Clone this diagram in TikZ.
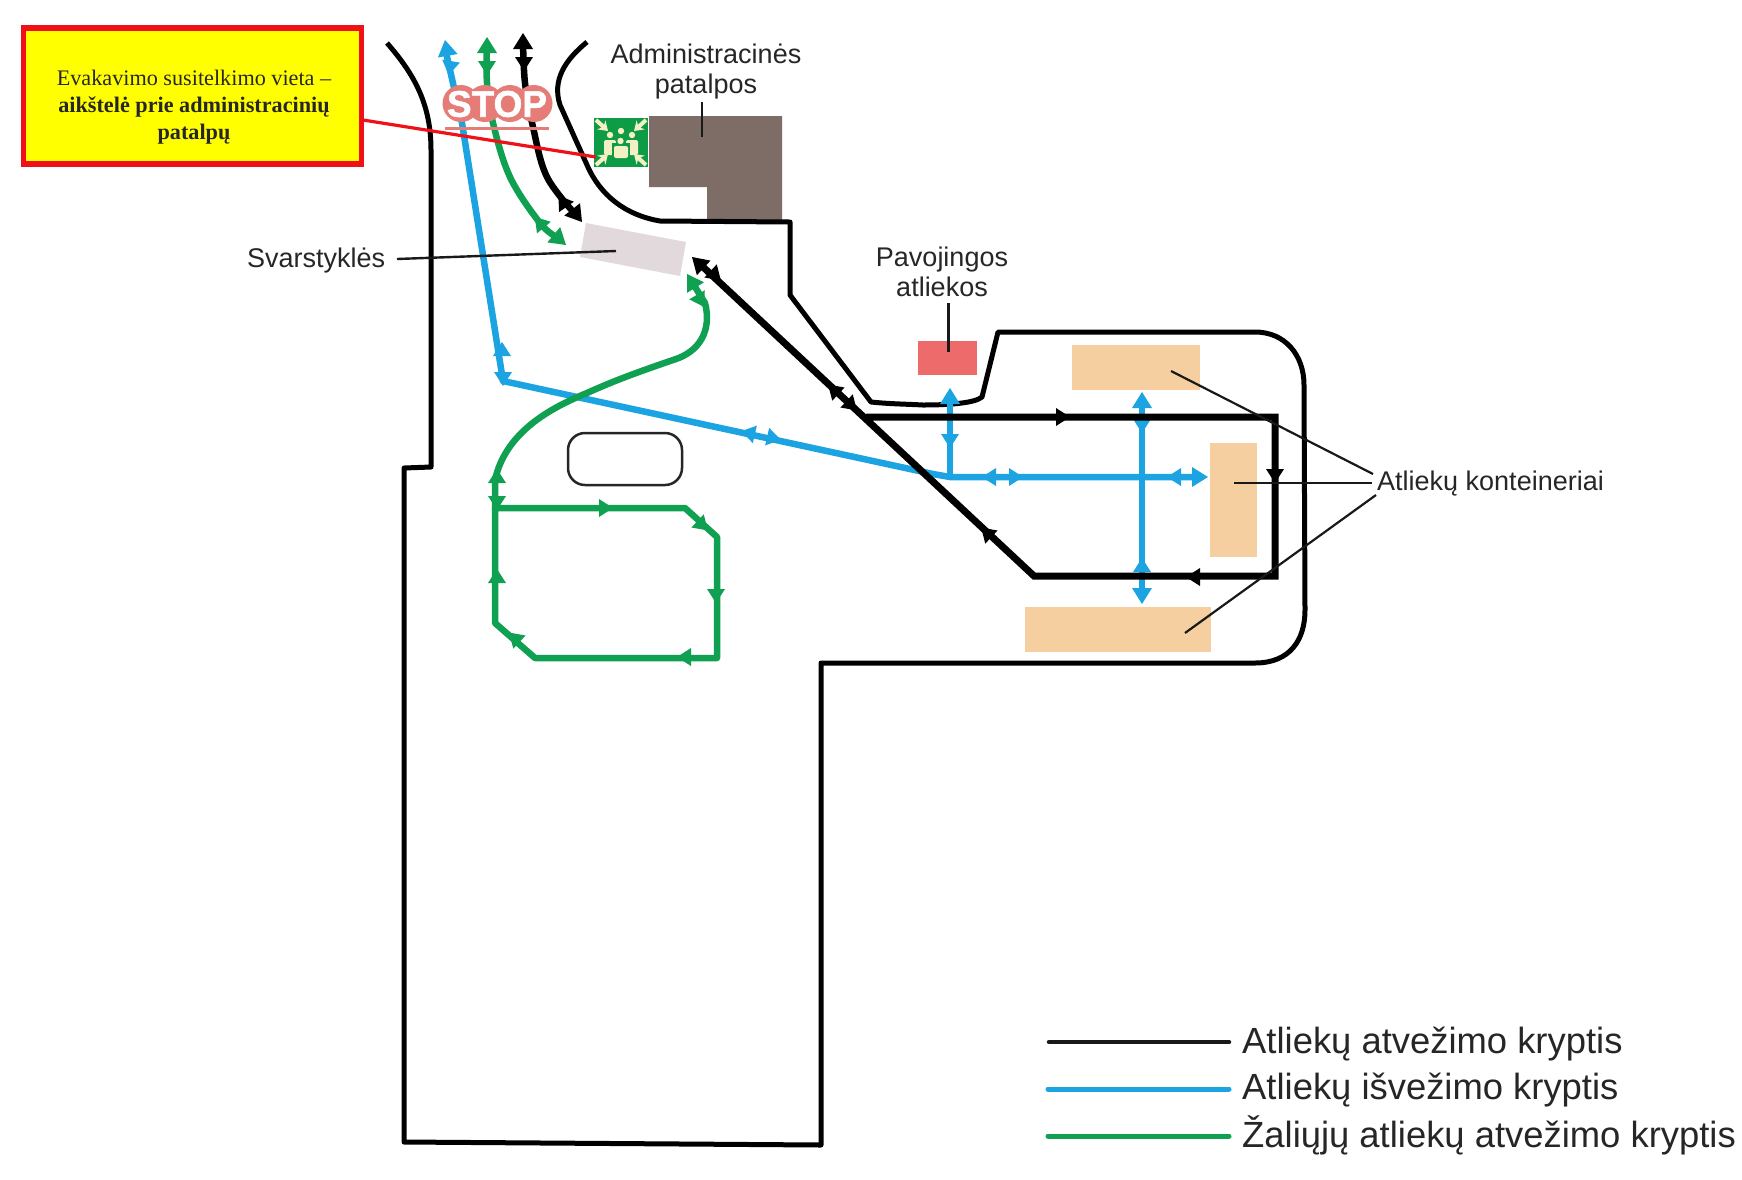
\documentclass[tikz,border=0pt]{standalone}
\usepackage{fontspec}
\setmainfont{Liberation Sans}
\newfontfamily\serifface{Liberation Serif}
\newfontfamily\stopface[BoldFeatures={FakeBold=1.5}]{Liberation Sans}
\usetikzlibrary{arrows.meta}
\definecolor{rblue}{HTML}{1BA3E2}
\definecolor{rgreen}{HTML}{10A052}
\definecolor{peach}{HTML}{F5CFA0}
\definecolor{brownb}{HTML}{7E6C66}
\definecolor{mauve}{HTML}{E2D9DC}
\definecolor{hazard}{HTML}{EE6B6B}
\definecolor{salmon}{HTML}{E57C78}
\definecolor{signg}{HTML}{0E9B46}
\definecolor{signy}{HTML}{F3F1C4}
\definecolor{labelc}{HTML}{262626}
\definecolor{notey}{rgb}{1,1,0}
\definecolor{noter}{HTML}{F01018}
\newcommand{\routehead}[4]{\fill[#1,shift={(#2,#3)},rotate=#4] (8,0)--(-6,9)--(-6,-9)--cycle;}
\newcommand{\routetip}[4]{\fill[#1,shift={(#2,#3)},rotate=#4] (0,0)--(-16,10)--(-16,-10)--cycle;}
\tikzset{
  wall/.style={black,line width=5pt,line join=round},
  blackroute/.style={black,line width=7pt,line join=miter},
  blueroute/.style={rblue,line width=6.5pt,line join=round},
  greenroute/.style={rgreen,line width=6.5pt,line join=round},
  leader/.style={black!90,line width=2.2pt},
  label/.style={font=\fontsize{27}{30}\selectfont,text=labelc,align=center,inner sep=0pt},
  legendtext/.style={font=\fontsize{36.4}{40}\selectfont,text=labelc,anchor=base west,inner sep=0pt},
  container/.style={fill=peach,inner sep=0pt},
  signarrow/.style={signy,line width=4pt,-{Stealth[length=9pt,width=12pt]}},
}
\begin{document}
\begin{tikzpicture}[x=1pt,y=-1pt]
\useasboundingbox (0,0) rectangle (1742,1179);
\fill[white] (0,0) rectangle (1742,1179);

% areas
\node[container,minimum width=128pt,minimum height=45pt] (ctop) at (1136,367.5) {};
\node[container,minimum width=47pt,minimum height=114pt] (cright) at (1233.5,500) {};
\node[container,minimum width=186pt,minimum height=45pt] (cbottom) at (1118,629.5) {};
\node[fill=hazard,inner sep=0pt,minimum width=59pt,minimum height=34pt] (hazardbox) at (947,358) {};
\fill[mauve] (586,223)--(686,242)--(680,276)--(580,257)--cycle;
\fill[brownb] (649,116)--(782,116)--(782,221)--(707,221)--(707,187)--(649,187)--cycle;

% site outline
\draw[wall] (587,42) .. controls (565,60) and (552,80) .. (560,105) -- (587,165)
  .. controls (600,195) and (625,215) .. (660,221) -- (790,222) -- (790,295) -- (871,402)
  .. controls (890,404) and (905,404) .. (923,405) .. controls (950,405) and (975,403) .. (982,397)
  -- (998,332) -- (1255,332) .. controls (1285,332) and (1304,355) .. (1304,385)
  -- (1305,610) .. controls (1305,640) and (1290,663) .. (1255,663) -- (821,663)
  -- (821,1145) -- (404,1142) -- (404,468) -- (431,467) -- (431,150)
  .. controls (431,105) and (415,75) .. (387,43);
\draw[black!85,line width=2.5pt,rounded corners=17pt] (568,433) rectangle (682,485);

% blue routes
\draw[blueroute] (445,48) -- (462,123) -- (503,381) -- (933,474) -- (950,477) -- (1200,477);
\draw[blueroute] (950,477) -- (950,395);
\draw[blueroute] (1142,398) -- (1142,596);
\foreach \x/\y/\a in {450/67/-100, 502/350/90, 503/378/-90, 749/433/167, 773/438/-13,
  950/440/-90, 990/477/180, 1015/477/0, 1175/477/180, 1142/425/-90, 1142/566/90}
  {\routehead{rblue}{\x}{\y}{\a}}
\routetip{rblue}{445}{40}{100}
\routetip{rblue}{950}{388}{90}
\routetip{rblue}{1142}{392}{90}
\routetip{rblue}{1142}{604}{-90}
\routetip{rblue}{1208}{477}{0}

% green routes
\draw[greenroute] plot[smooth,tension=0.6] coordinates {(487,45)(487,83)(493,123)(510,177)(540,223)(558,238)};
\draw[greenroute] (495,510) -- (495,480) .. controls (505,435) and (545,410) .. (587,393)
  .. controls (620,378) and (650,368) .. (673,360) .. controls (700,352) and (712,330) .. (705,303) -- (692,282);
\draw[greenroute] (495,508) -- (685,508) -- (717,537) -- (717,658) -- (535,658) -- (495,623) -- cycle;
\foreach \x/\y/\a in {487/67/-90, 540/223/130, 700/300/-60, 497/477/90, 497/502/-90, 605/508/0,
  702/525/-43, 716/595/-90, 685/657/180, 515/638/137, 497/577/90}
  {\routehead{rgreen}{\x}{\y}{\a}}
\routetip{rgreen}{487}{37}{90}
\routetip{rgreen}{566}{245}{-40}
\routetip{rgreen}{687}{274}{122}

% black routes
\draw[black,line width=6.5pt] plot[smooth,tension=0.6] coordinates {(523,40)(525,83)(533,127)(547,177)(577,216)};
\draw[blackroute] (702,266) -- (1034,576) -- (1275,576) -- (1275,417) -- (866,417);
\foreach \x/\y/\a in {524/63/-90, 563/202/125, 715/275/-43, 834/390/137, 851/405/-43,
  1062/417/0, 1275/475/-90, 1194/577/180, 987/533/137}
  {\routehead{black}{\x}{\y}{\a}}
\routetip{black}{523}{33}{90}
\routetip{black}{582}{222}{-52}
\routetip{black}{692}{257}{137}

% STOP sign
\fill[salmon] (461,103.5) circle (18.5) (485,103.5) circle (18.5) (510,103.5) circle (18.5) (534,103.5) circle (18.5);
\node[inner sep=0pt,text=white,font=\stopface\fontsize{37}{37}\selectfont\bfseries] (stop) at (497,104) {STOP};
\fill[salmon] (445,126.5) rectangle (549,130);

% assembly sign
\node[fill=signg,inner sep=0pt,minimum width=54pt,minimum height=49pt] (sign) at (621,142.5) {};
\draw[signarrow] (596,120) -- (608,131);
\draw[signarrow] (646,120) -- (634,131);
\draw[signarrow] (596,165) -- (608,154);
\draw[signarrow] (646,165) -- (634,154);
\fill[signy] (621,131) circle (3.2) (610,135) circle (3.2) (632,135) circle (3.2);
\fill[signy,rounded corners=2pt] (604,140) rectangle (616,155);
\fill[signy,rounded corners=2pt] (626,140) rectangle (638,155);
\fill[signg] (612,143) rectangle (630,158);
\fill[signy] (620.5,141) circle (3.2);
\fill[signy,rounded corners=2pt] (614,146) rectangle (628,158);

% labels and leaders
\node[label] (admin) at (706,72) {Administracinės\\patalpos};
\coordinate (adminend) at (702,137);
\coordinate (adminstart) at (702,102);
\draw[leader] (adminstart) -- (adminend);
\node[label,anchor=west] (scales) at (247,261) {Svarstyklės};
\coordinate (scalesstart) at (397,259);
\coordinate (scalesend) at (616,251);
\draw[leader,line width=2.4pt] (scalesstart) -- (scalesend);
\node[label] (hazardlabel) at (942,272) {Pavojingos\\atliekos};
\coordinate (hazardstart) at (948.5,303);
\coordinate (hazardend) at (948.5,352);
\draw[leader] (hazardstart) -- (hazardend);
\node[label,anchor=west] (containers) at (1377,484) {Atliekų konteineriai};
\coordinate (a1) at (1373,474);
\coordinate (a2) at (1372,483);
\coordinate (a3) at (1376,495);
\coordinate (t1) at (1171,371);
\coordinate (t2) at (1234,483);
\coordinate (t3) at (1185,633);
\draw[leader] (t1) -- (a1);
\draw[leader] (t2) -- (a2);
\draw[leader] (t3) -- (a3);

% evacuation box
\node[draw=noter,line width=5.5pt,fill=notey,minimum width=338pt,minimum height=136pt,inner sep=0pt] (evac) at (192.5,96) {};
\node[align=center,inner sep=0pt,font=\serifface\fontsize{22.2}{27}\selectfont,text=black!85] (evactext) at (194,107.5)
  {Evakavimo susitelkimo vieta –\\\textbf{aikštelė prie administracinių}\\\textbf{patalpų}};
\coordinate (evacend) at (596,157);
\draw[noter,line width=3.2pt] (363,120) -- (evacend);

% legend
\coordinate (l1a) at (1049,1042); \coordinate (l1b) at (1229,1042);
\coordinate (l2a) at (1048,1089); \coordinate (l2b) at (1229,1089);
\coordinate (l3a) at (1048,1136); \coordinate (l3b) at (1229,1136);
\draw[black!90,line width=4.5pt,line cap=round] (l1a) -- (l1b);
\draw[rblue,line width=5pt,line cap=round] (l2a) -- (l2b);
\draw[rgreen,line width=5pt,line cap=round] (l3a) -- (l3b);
\node[legendtext] (t1l) at (1242,1053) {Atliekų atvežimo kryptis};
\node[legendtext] (t2l) at (1242,1099) {Atliekų išvežimo kryptis};
\node[legendtext] (t3l) at (1242,1147) {Žaliųjų atliekų atvežimo kryptis};
\end{tikzpicture}
\end{document}
